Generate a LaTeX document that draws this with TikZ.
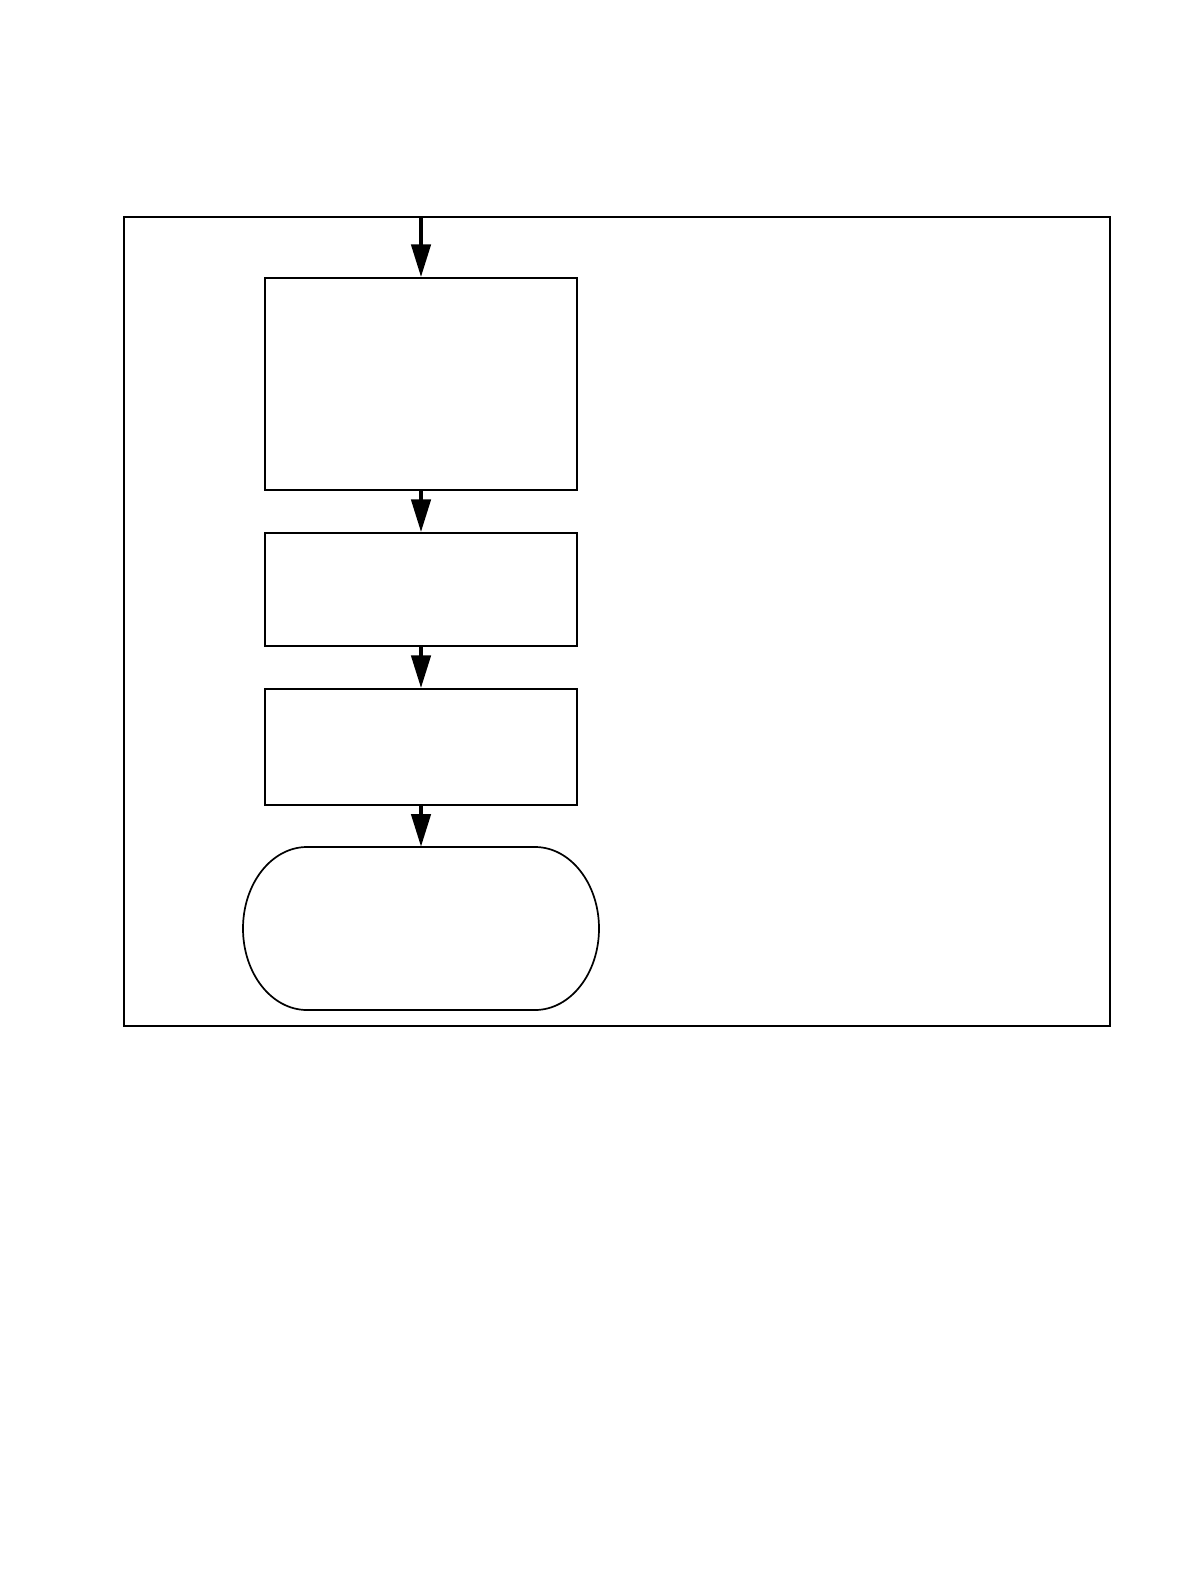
\documentclass[tikz,border=0pt]{standalone}
\usetikzlibrary{arrows.meta}

\tikzset{every picture/.style={line width=0.65pt}}
\tikzset{
  procbox/.style={draw, rectangle, minimum width=156pt, inner sep=0pt},
  termbox/.style={rectangle, minimum width=178pt, minimum height=81.5pt, inner sep=0pt, outer sep=0pt},
  termline/.style={line width=0.85pt},
  flow/.style={line width=2.3pt, -{Triangle[length=16.5pt,width=9.5pt]}}
}

\begin{document}
\begin{tikzpicture}[x=0.5pt,y=0.5pt,yscale=-1,xscale=1]
\useasboundingbox (0,0) rectangle (1190,1582);

% Outer frame
\node [draw, rectangle, minimum width=493pt, minimum height=404.5pt, inner sep=0pt] (frame) at (617,621.5) {};
\coordinate (entry) at (421,217);

% Process boxes
\node [procbox, minimum height=106pt] (stepA) at (421,384) {};
\node [procbox, minimum height=56.5pt] (stepB) at (421,589.5) {};
\node [procbox, minimum height=58pt] (stepC) at (421,747) {};

% Terminal
\node [termbox] (finish) at (421,928.5) {};
\draw [termline] ([xshift=32pt]finish.north west) -- ([xshift=-32pt]finish.north east)
  arc [start angle=-90, end angle=90, x radius=64, y radius=81.5]
  -- ([xshift=32pt]finish.south west)
  arc [start angle=90, end angle=270, x radius=64, y radius=81.5] -- cycle;

% Flow arrows
\draw [flow] (entry) -- (stepA);
\draw [flow] (stepA) -- (stepB);
\draw [flow] (stepB) -- (stepC);
\draw [flow] (stepC) -- (finish);

\end{tikzpicture}
\end{document}
